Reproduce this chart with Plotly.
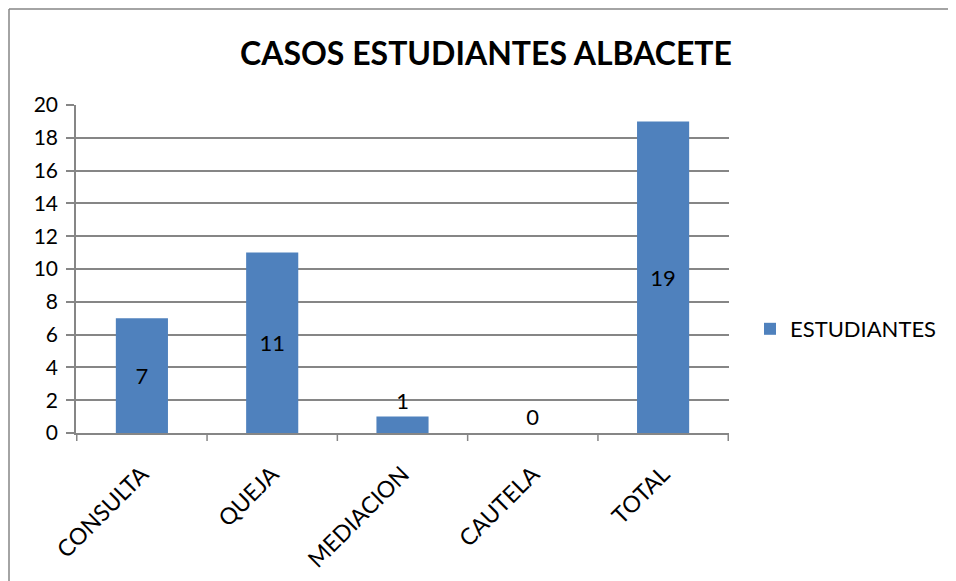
import plotly.graph_objects as go

# Datos del grafico
categorias = ["CONSULTA", "QUEJA", "MEDIACION", "CAUTELA", "TOTAL"]
estudiantes = [7, 11, 1, 0, 19]
serie = "ESTUDIANTES"
titulo = "CASOS ESTUDIANTES ALBACETE"
y_ticks = list(range(0, 21, 2))

AZUL = "#4F81BD"
GRIS = "#868686"
FUENTE = "Lato, 'Open Sans', sans-serif"

# posiciones de etiqueta: dentro si cabe, fuera si la barra es muy baja
pos_texto = ["inside" if v >= 3 else "outside" for v in estudiantes]

fig = go.Figure()
fig.add_trace(go.Bar(
    x=categorias, y=estudiantes, name=serie,
    marker=dict(color=AZUL, line=dict(width=0)),
    width=0.4,
    text=[str(v) for v in estudiantes],
    textposition=pos_texto, insidetextanchor="middle",
    textfont=dict(family=FUENTE, size=22, color="black"),
    outsidetextfont=dict(family=FUENTE, size=22, color="black"),
    cliponaxis=False,
    showlegend=True,
))

# la pagina deja 8px de margen en el body: se descuentan
OFF = 8
W, H = 956 - OFF, 581 - OFF
L, R, T, B = 76 - OFF, 227, 105 - OFF, 148
pw, ph = W - L - R, H - T - B

def px_x(p):
    return (p - OFF - L) / pw

def px_y(p):
    return (H + OFF - B - p) / ph

fig.update_layout(
    width=W, height=H,
    margin=dict(l=L, r=R, t=T, b=B, autoexpand=False),
    paper_bgcolor="white", plot_bgcolor="white",
    font=dict(family=FUENTE, color="black"),
    title=dict(text=f"<b>{titulo}</b>",
               x=(486 - OFF) / W, xref="container", xanchor="center",
               y=1 - (54 - OFF) / H, yref="container", yanchor="middle",
               font=dict(family=FUENTE, size=32, color="black")),
    showlegend=True,
    legend=dict(x=px_x(750), xanchor="left", y=px_y(329), yanchor="middle",
                font=dict(family=FUENTE, size=22, color="black"),
                itemwidth=30, bgcolor="rgba(0,0,0,0)"),
    bargap=0.6,
    xaxis=dict(
        type="category", tickangle=-45,
        tickfont=dict(family=FUENTE, size=23, color="black"),
        showline=True, linecolor=GRIS, linewidth=1.5,
        ticks="", showgrid=False, zeroline=False,
        ticklabelstandoff=17,
    ),
    yaxis=dict(
        range=[0, 20], tickvals=y_ticks,
        tickfont=dict(family=FUENTE, size=21, color="black"),
        showline=True, linecolor=GRIS, linewidth=1.5,
        ticks="outside", ticklen=8, tickcolor=GRIS, tickwidth=1.5,
        showgrid=True, gridcolor=GRIS, gridwidth=1.5,
        zeroline=False, ticklabelstandoff=4,
    ),
    shapes=[
        # borde exterior del grafico (lo mas cerca posible del borde de la pagina)
        dict(type="line", xref="paper", yref="paper",
             x0=px_x(9), x1=px_x(9), y0=px_y(9), y1=px_y(590),
             line=dict(color=GRIS, width=1.5)),
        dict(type="line", xref="paper", yref="paper",
             x0=px_x(9), x1=px_x(965), y0=px_y(9), y1=px_y(9),
             line=dict(color=GRIS, width=1.5)),
    ],
)

# marcas del eje x entre categorias
for i in range(len(categorias) + 1):
    fig.add_shape(type="line", xref="x", yref="paper",
                  x0=i - 0.5, x1=i - 0.5, y0=0, y1=-8 / ph,
                  line=dict(color=GRIS, width=1.5))

fig.write_html("out.html")
